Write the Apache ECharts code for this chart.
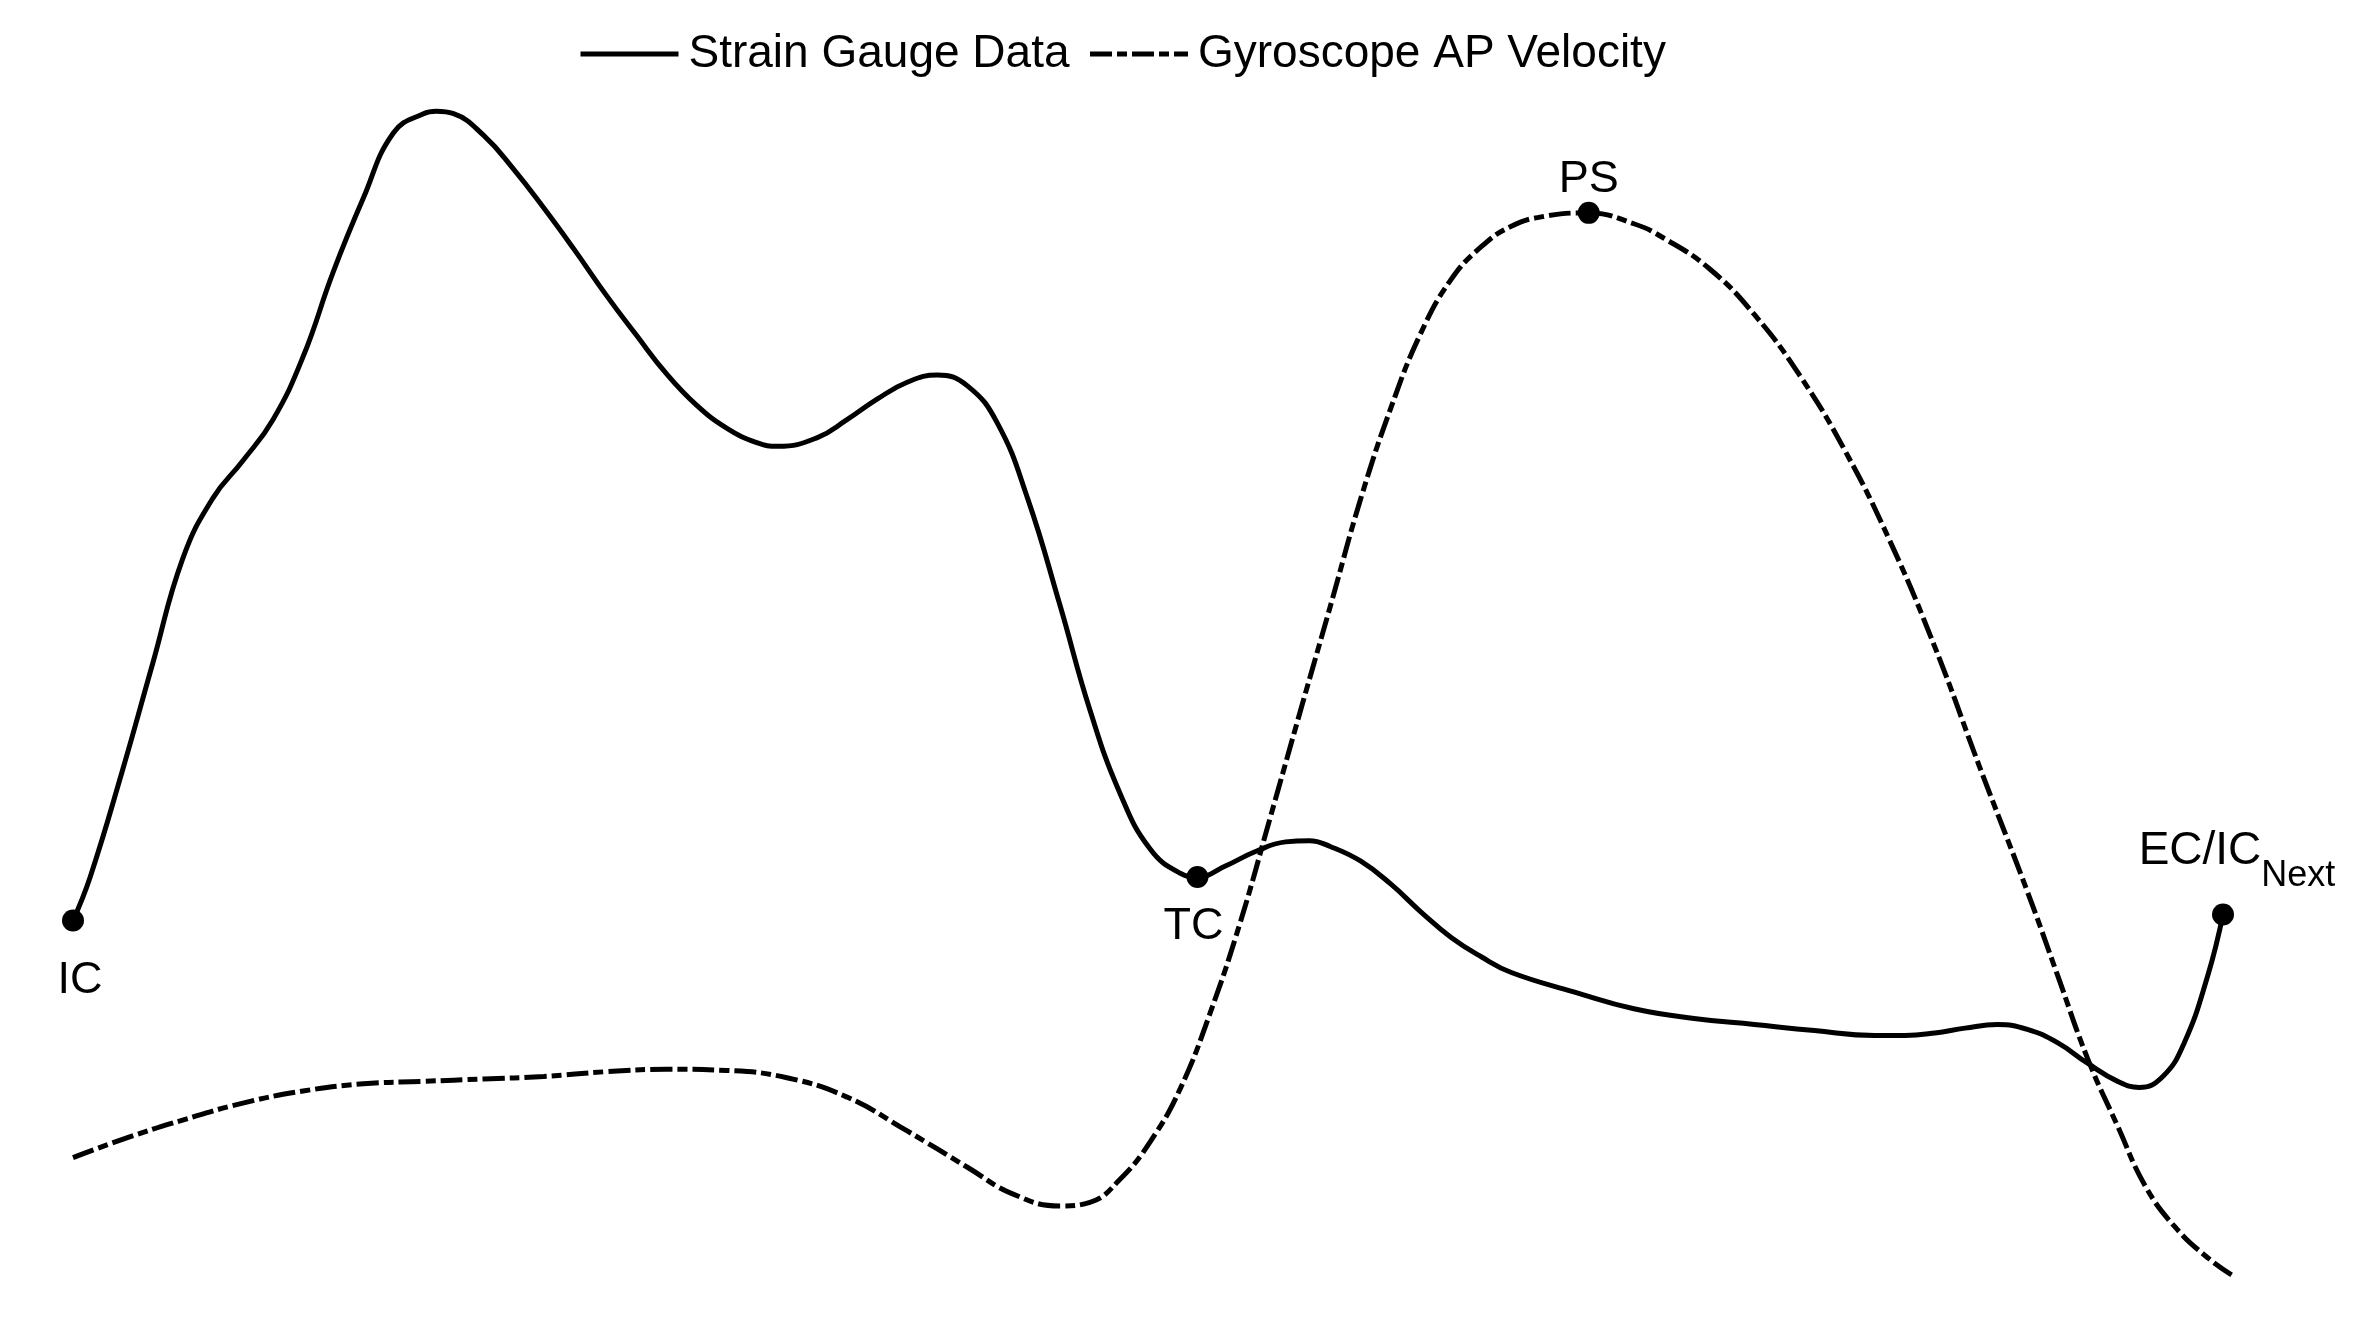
<!DOCTYPE html>
<html>
<head>
<meta charset="utf-8">
<style>
html,body{margin:0;padding:0;background:#fff;}
#chart{width:2371px;height:1317px;}
</style>
<script src="https://cdn.jsdelivr.net/npm/echarts@6/dist/echarts.min.js"></script>
</head>
<body>
<div id="chart"></div>
<script>
// Gait cycle (%) and signal amplitude (arbitrary units, 0-100)
var strainX = [0,0.8,2.3,3.7,5.1,6.5,7.9,9.3,10.7,12.1,13.5,14.9,16.3,16.9,17.7,19.1,20.5,21.9,23.3,24.8,26.2,27.6,29.0,30.4,31.8,32.8,34.6,36.0,37.4,38.8,40.2,41.6,43.0,44.4,45.9,47.3,48.7,50.1,51.5,52.3,53.6,55.0,56.4,57.5,58.5,59.9,61.3,62.7,64.1,65.5,66.9,69.8,72.6,75.4,78.2,81.0,83.8,85.2,86.6,88.0,89.5,90.9,92.3,93.7,95.1,96.1,97.2,98.2,99.3,100];
var strainY = [31.4,35,43.8,52.6,61.3,66.3,69.4,72.8,78.0,85.0,91.1,96.5,98.1,98.3,98.1,96.3,93.5,90.3,86.9,83.1,79.8,76.6,74,72.1,70.9,70.6,71.3,72.8,74.5,75.9,76.5,75.6,72.5,66.3,57.5,48.8,41.9,37.3,35.3,35,35.9,37.1,37.9,38,37.5,36.3,34.4,32.1,30,28.4,27.1,25.5,24.1,23.3,22.8,22.3,21.9,21.9,22.1,22.5,22.8,22.4,21.3,19.6,18.1,17.6,18.5,21.3,26.9,31.9];
var gyroX = [0,2.3,5.1,7.9,10.7,13.5,16.3,19.1,21.9,24.8,27.6,30.4,33.2,36.0,38.8,41.6,43.7,45.9,47.3,48.7,50.1,51.5,52.9,54.3,55.7,57.1,58.5,59.9,61.3,62.7,64.1,65.5,66.9,68.4,70.5,72.6,74.0,76.1,78.2,80.3,82.4,84.5,86.6,88.7,90.9,92.3,93.7,95.1,96.4,97.8,99.3,100.4];
var gyroY = [11.8,13.3,14.9,16.3,17.3,17.9,18.1,18.3,18.5,18.9,19.1,19,18.4,16.8,14,11,8.8,7.8,8.1,10,13.1,17.5,23.8,31.3,40,48.8,57.5,66.3,73.8,80,84.4,87.1,88.8,89.6,89.9,89,87.8,85.3,81.5,76.5,70.3,62.8,54,44,33.8,26.9,20,14.4,9.4,6,3.5,2.1];
var seriesNames = ['Strain Gauge Data', 'Gyroscope AP Velocity'];
// Gait events: [label, series index, point index]
var eventNames = ['IC', 'TC', 'PS', 'EC/IC'];
var eventSeries = [0, 0, 1, 0];
var eventIndex = [0, 39, 34, 69];

function zip(xs, ys){ return xs.map(function(x,i){ return [x, ys[i]]; }); }

var FONT = '"Liberation Sans", Arial, sans-serif';
var DASH = [22, 5, 10, 5];
var labelOffsets = {
  'IC': [7, 60],
  'TC': [-4, 50],
  'PS': [0, -33],
  'EC/IC': [14, -53]
};

function markPointsFor(si){
  var xs = si === 0 ? strainX : gyroX;
  var ys = si === 0 ? strainY : gyroY;
  var out = [];
  eventNames.forEach(function(n, k){
    if (eventSeries[k] !== si) return;
    var idx = eventIndex[k];
    var isEC = n === 'EC/IC';
    out.push({
      name: n,
      coord: [xs[idx], ys[idx]],
      label: {
        show: true,
        position: 'inside',
        offset: labelOffsets[n],
        formatter: isEC ? '{a|EC/IC}{b|Next}' : n,
        color: '#000',
        fontSize: 45,
        fontFamily: FONT,
        rich: isEC ? {
          a: {fontSize: 46, fontFamily: FONT, color: '#000', verticalAlign: 'top', lineHeight: 46},
          b: {fontSize: 36, fontFamily: FONT, color: '#000', padding: [30, 0, 0, 0], verticalAlign: 'bottom'}
        } : undefined
      }
    });
  });
  return out;
}

var chart = echarts.init(document.getElementById('chart'), null, {renderer: 'canvas'});
chart.setOption({
  backgroundColor: '#fff',
  animation: false,
  legend: {
    left: 573,
    top: 26,
    itemWidth: 98,
    itemHeight: 20,
    itemGap: 18,
    itemStyle: {opacity: 0},
    textStyle: {fontSize: 46, fontFamily: FONT, color: '#000', padding: [0, 0, 0, 5]},
    data: [
      {name: seriesNames[0], lineStyle: {width: 5, color: '#000', type: 'solid'}},
      {name: seriesNames[1], lineStyle: {width: 5, color: '#000', type: DASH}}
    ]
  },
  grid: {left: 73, right: 126.5, top: 90.7, bottom: 16.7, containLabel: false},
  xAxis: {type: 'value', min: 0, max: 101, show: false},
  yAxis: {type: 'value', min: 0, max: 100, show: false},
  series: [
    {
      name: seriesNames[0],
      type: 'line',
      data: zip(strainX, strainY),
      smooth: 0.45,
      symbol: 'none',
      clip: false,
      lineStyle: {color: '#000', width: 5, type: 'solid'},
      itemStyle: {color: '#000'},
      markPoint: {
        symbol: 'circle',
        symbolSize: 22,
        itemStyle: {color: '#000'},
        data: markPointsFor(0)
      }
    },
    {
      name: seriesNames[1],
      type: 'line',
      data: zip(gyroX, gyroY),
      smooth: 0.45,
      symbol: 'none',
      clip: false,
      lineStyle: {color: '#000', width: 5, type: DASH},
      itemStyle: {color: '#000'},
      markPoint: {
        symbol: 'circle',
        symbolSize: 22,
        itemStyle: {color: '#000'},
        data: markPointsFor(1)
      }
    }
  ]
});
</script>
</body>
</html>
